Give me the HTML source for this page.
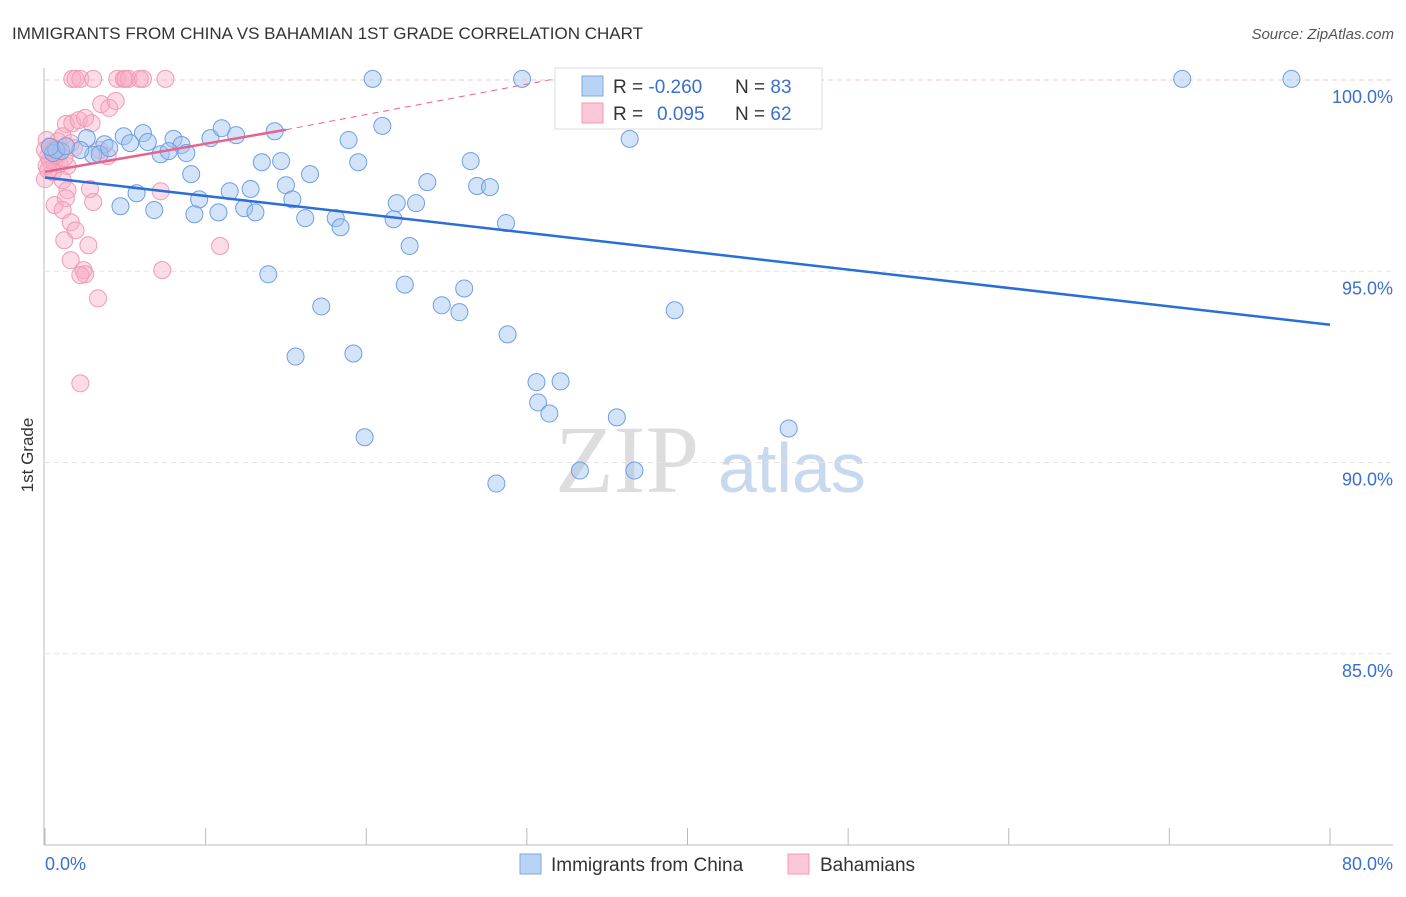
<!DOCTYPE html>
<html><head><meta charset="utf-8"><style>
body{margin:0;background:#fff;font-family:"Liberation Sans",sans-serif}
svg text{font-family:"Liberation Sans",sans-serif}
</style></head><body>
<svg id="c" width="1406" height="892" xmlns="http://www.w3.org/2000/svg">
<text x="12" y="39" font-size="17" fill="#333">IMMIGRANTS FROM CHINA VS BAHAMIAN 1ST GRADE CORRELATION CHART</text>
<text x="1394" y="39" font-size="15" fill="#555" font-style="italic" text-anchor="end">Source: ZipAtlas.com</text>
<text x="33" y="455" font-size="17" fill="#333" transform="rotate(-90 33 455)" text-anchor="middle">1st Grade</text>
<text x="555" y="492" font-size="96" fill="#ddd" font-family="Liberation Serif" style="font-family:'Liberation Serif',serif">ZIP</text>
<text x="718" y="492" font-size="70" fill="#c8d8ee">atlas</text>
<g id="grid"></g><g id="axes"></g><g id="marks"></g>
<g>
<rect x="555" y="68" width="267" height="61" fill="#fff" stroke="#ddd"/>
<rect x="582" y="76" width="21" height="20" fill="#b9d3f5" stroke="#7aa7e6"/>
<rect x="582" y="103" width="21" height="20" fill="#fbc8d8" stroke="#f19ab5"/>
<text x="613" y="93" font-size="19" fill="#333">R = <tspan fill="#3a6fd0">-0.260</tspan></text>
<text x="735" y="93" font-size="19" fill="#333">N = <tspan fill="#3a6fd0">83</tspan></text>
<text x="613" y="120" font-size="19" fill="#333">R = <tspan fill="#3a6fd0" x="657">0.095</tspan></text>
<text x="735" y="120" font-size="19" fill="#333">N = <tspan fill="#3a6fd0">62</tspan></text>
</g>
<g>
<rect x="520" y="854" width="21" height="20" fill="#b9d3f5" stroke="#7aa7e6"/>
<text x="551" y="871" font-size="19" fill="#333">Immigrants from China</text>
<rect x="788" y="854" width="21" height="20" fill="#fbc8d8" stroke="#f19ab5"/>
<text x="820" y="871" font-size="19" fill="#333">Bahamians</text>
</g>
</svg>
<script>
const NS="http://www.w3.org/2000/svg";
const yTicks=[100,95,90,85];
const yTickLabels=["100.0%","95.0%","90.0%","85.0%"];
const xTicks=[0,10,20,30,40,50,60,70,80];
const blueX=[20.4,29.7,32.9,34.6,40.9,70.8,77.6,2.6,4.9,6.1,3.7,5.3,6.4,8.0,8.5,10.3,11.0,11.9,14.3,7.2,7.7,8.8,1.0,3.0,3.4,2.2,18.9,21.0,36.4,13.5,14.7,19.5,16.5,9.1,15.0,11.5,12.8,5.7,4.7,6.8,9.6,9.3,10.8,12.4,13.1,15.4,16.2,18.1,18.4,21.7,21.9,23.1,23.8,26.5,26.9,27.7,28.7,22.7,13.9,17.2,22.4,24.7,25.8,26.1,28.8,15.6,19.2,30.6,32.1,30.7,31.4,35.6,46.3,39.2,19.9,33.3,36.7,28.1,0.5,0.7,0.3,1.3,4.0];
const blueY=[100.03,100.03,100.03,99.79,99.95,100.03,100.03,98.48,98.53,98.61,98.32,98.35,98.38,98.46,98.30,98.48,98.74,98.56,98.66,98.06,98.14,98.09,98.14,98.04,98.06,98.17,98.43,98.80,98.46,97.85,97.88,97.85,97.54,97.54,97.25,97.09,97.15,97.04,96.70,96.60,96.88,96.49,96.54,96.65,96.54,96.88,96.39,96.39,96.15,96.36,96.78,96.78,97.33,97.88,97.23,97.20,96.26,95.66,94.92,94.08,94.65,94.11,93.93,94.55,93.35,92.77,92.85,92.10,92.12,91.57,91.28,91.18,90.89,93.98,90.66,89.79,89.79,89.45,98.09,98.17,98.25,98.27,98.22];
const pinkX=[1.7,1.9,2.2,3.0,4.5,4.9,5.0,5.2,5.9,6.1,7.5,3.5,4.0,4.4,1.3,1.7,2.1,2.5,2.9,1.1,0.8,0.3,0.4,0.2,0.6,0.1,0.9,0.0,1.4,0.5,1.1,1.4,2.8,7.2,0.6,1.3,1.1,3.0,1.6,1.9,1.2,2.7,10.9,1.6,2.4,2.5,2.2,7.3,3.3,2.2,0.1,0.3,0.6,0.7,0.0,0.8,0.2,3.4,1.8,1.2,1.6,3.9];
const pinkY=[100.03,100.03,100.03,100.03,100.03,100.03,100.03,100.03,100.03,100.03,100.03,99.37,99.27,99.45,98.85,98.87,98.95,99.01,98.87,98.53,98.40,98.27,98.14,98.01,97.88,97.75,97.80,97.41,97.75,97.59,97.38,97.12,97.15,97.09,96.73,96.91,96.60,96.81,96.28,96.07,95.81,95.68,95.66,95.29,95.03,94.92,94.90,95.03,94.29,92.07,98.43,97.91,98.22,98.04,98.17,98.09,97.64,98.17,98.22,97.96,98.35,98.01];
const blueTrendX=[0,80],blueTrendY=[97.45,93.6];
const pinkTrendX=[0,15,32],pinkTrendY=[97.6,98.7,100.05];
const X=v=>45+v*(1285/80), Y=v=>80+(100-v)*38.25;
function el(t,a,p){const e=document.createElementNS(NS,t);for(const k in a)e.setAttribute(k,a[k]);p.appendChild(e);return e;}
const grid=document.getElementById('grid'),axes=document.getElementById('axes'),marks=document.getElementById('marks');
yTicks.forEach((v,i)=>{
 const l=el('line',{x1:45,x2:1393,y1:Y(v),y2:Y(v),stroke:i==0?'#e8c9d2':'#e4e4e4','stroke-dasharray':'5,4'},grid);
 
 
 const t=el('text',{x:1393,y:Y(v)+23,'font-size':18,fill:'#3a6fd0','text-anchor':'end'},axes);
 t.textContent=yTickLabels[i];
 
 
});
let a=el('line',{x1:44,x2:44,y1:68,y2:845,stroke:'#bbb'},axes);


a=el('line',{x1:44,x2:1393,y1:845,y2:845,stroke:'#bbb'},axes);


xTicks.forEach(v=>{const t=el('line',{x1:X(v),x2:X(v),y1:828,y2:845,stroke:'#bbb'},axes);
 
 });
let t=el('text',{x:45,y:870,'font-size':18,fill:'#3a6fd0'},axes);t.textContent='0.0%';


t=el('text',{x:1393,y:870,'font-size':18,fill:'#3a6fd0','text-anchor':'end'},axes);t.textContent='80.0%';


pinkX.forEach((v,i)=>{const c=el('circle',{cx:X(v),cy:Y(pinkY[i]),r:8.5,fill:'rgba(248,170,195,0.4)',stroke:'#f19ab5','stroke-width':1},marks);
 
 });
blueX.forEach((v,i)=>{const c=el('circle',{cx:X(v),cy:Y(blueY[i]),r:8.5,fill:'rgba(160,195,240,0.45)',stroke:'#6e9fe3','stroke-width':1},marks);
 
 });
let ln=el('line',{x1:X(blueTrendX[0]),y1:Y(blueTrendY[0]),x2:X(blueTrendX[1]),y2:Y(blueTrendY[1]),stroke:'#2a6ed6','stroke-width':2.5},marks);


ln=el('line',{x1:X(pinkTrendX[0]),y1:Y(pinkTrendY[0]),x2:X(pinkTrendX[1]),y2:Y(pinkTrendY[1]),stroke:'#e8628e','stroke-width':2.5},marks);


ln=el('line',{x1:X(pinkTrendX[1]),y1:Y(pinkTrendY[1]),x2:X(pinkTrendX[2]),y2:Y(pinkTrendY[2]),stroke:'#e8628e','stroke-width':1,'stroke-dasharray':'6,5'},marks);


</script>
</body></html>
